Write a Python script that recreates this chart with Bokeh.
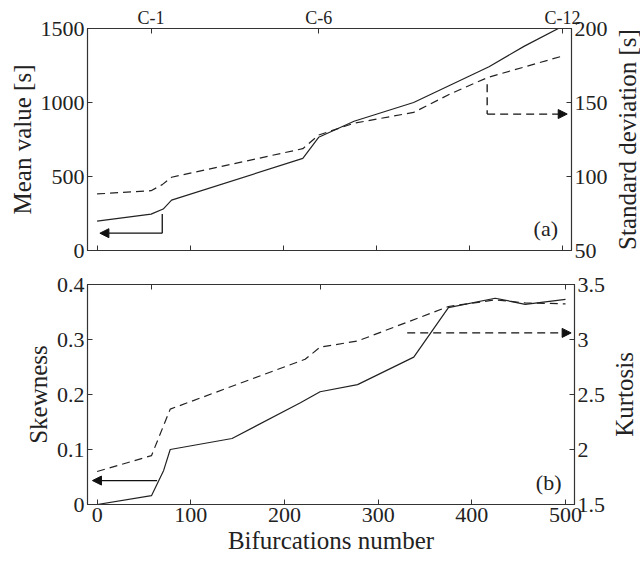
from bokeh.plotting import figure
from bokeh.layouts import column, row
from bokeh.models import (Range1d, LinearAxis, FixedTicker, Arrow, NormalHead, Label,
                          CustomLabelingPolicy)
from bokeh.embed import file_html
from bokeh.resources import INLINE

# ---------------- data ----------------
mean_x = [0, 58, 71, 80, 221, 238, 276, 340, 421, 459, 500]
mean_value = [198, 246, 280, 340, 622, 765, 873, 1000, 1242, 1381, 1515]

std_x = [0, 58, 70, 80, 221, 238, 276, 340, 380, 420, 500]
std_dev = [88.2, 90.4, 94.5, 99.5, 118.8, 128.0, 136.0, 143.3, 156.0, 167.0, 181.4]

skew_x = [0, 58, 71, 78, 144, 217, 238, 278, 338, 375, 425, 457, 500]
skewness = [0.0, 0.016, 0.062, 0.100, 0.120, 0.185, 0.205, 0.218, 0.268, 0.358, 0.375, 0.364, 0.373]

kurt_x = [0, 58, 78, 222, 238, 278, 375, 425, 457, 500]
kurtosis = [1.80, 1.944, 2.367, 2.82, 2.93, 2.986, 3.30, 3.36, 3.333, 3.324]

x_ticks = [0, 100, 200, 300, 400, 500]
case_ticks = [58, 238, 500]
case_labels = ["C-1", "C-6", "C-12"]
mean_ticks = [0, 500, 1000, 1500]
std_ticks = [50, 100, 150, 200]
skew_ticks = [0, 0.1, 0.2, 0.3, 0.4]
kurt_ticks = [1.5, 2, 2.5, 3, 3.5]
kurt_labels = ["1.5", "2", "2.5", "3", "3.5"]

# arrow guides (data coordinates)
mean_arrow_x = [70, 70, 3]
mean_arrow_y = [246, 117, 117]
std_arrow_x = [419, 419, 505]
std_arrow_y = [162.4, 142.2, 142.2]
skew_arrow_x = [64, -5]
skew_arrow_y = [0.0435, 0.0435]
kurt_arrow_x = [331, 506]
kurt_arrow_y = [3.06, 3.06]

FONT = "Liberation Serif, DejaVu Serif, serif"
INK = "#222222"
FRAME = "#333333"
DASH = "8 5"
X_RANGE = (-10.3, 509.6)

NO_LABELS = CustomLabelingPolicy(code="""
for (const i of indices) { indices.unset(i) }
return indices
""")


def style_axis(ax, tick_font="22px", label=True):
    ax.major_tick_in = 5
    ax.major_tick_out = 0
    ax.minor_tick_line_color = None
    ax.axis_line_color = FRAME
    ax.major_tick_line_color = FRAME
    ax.major_label_text_font = FONT
    ax.major_label_text_font_size = tick_font
    ax.major_label_text_color = INK
    ax.axis_label_text_font = FONT
    ax.axis_label_text_font_size = "25px"
    ax.axis_label_text_font_style = "normal"
    ax.axis_label_text_color = INK
    ax.major_label_standoff = 3
    ax.axis_label_standoff = 2
    if not label:
        ax.major_label_policy = NO_LABELS
        ax.major_label_standoff = 0


def base_fig(height, top, bottom, yr):
    p = figure(width=610, height=height, output_backend="svg", toolbar_location=None,
               x_range=Range1d(*X_RANGE), y_range=Range1d(*yr),
               min_border_left=87, min_border_right=36,
               min_border_top=top, min_border_bottom=bottom)
    p.xgrid.visible = False
    p.ygrid.visible = False
    p.outline_line_color = FRAME
    p.outline_line_width = 1.2
    return p


def side_title(text, height, top, bottom, left, right):
    # narrow companion figure: its left-axis title reads bottom-to-top
    q = figure(width=30, height=height, output_backend="svg", toolbar_location=None,
               x_range=Range1d(0, 1), y_range=Range1d(0, 1), x_axis_location=None,
               y_axis_location=None,
               min_border_left=left, min_border_right=right,
               min_border_top=top, min_border_bottom=bottom)
    q.xgrid.visible = False
    q.ygrid.visible = False
    q.outline_line_color = None
    ax = LinearAxis(ticker=FixedTicker(ticks=[]), axis_label=text)
    style_axis(ax)
    ax.major_label_standoff = 0
    ax.axis_label_standoff = 0
    ax.major_tick_in = 0
    ax.major_tick_line_color = None
    ax.axis_line_color = None
    q.add_layout(ax, "left")
    return q


HEAD = dict(size=9, fill_color="#111111", line_color="#111111")

# ---------------- panel (a) ----------------
p1 = base_fig(267, 28, 15, (0, 1500))
p1.extra_y_ranges = {"std": Range1d(50, 200)}
p1.xaxis.ticker = FixedTicker(ticks=x_ticks)
style_axis(p1.xaxis[0], label=False)
p1.yaxis.ticker = FixedTicker(ticks=mean_ticks)
p1.yaxis.axis_label = "Mean value [s]"
style_axis(p1.yaxis[0])

ax_std = LinearAxis(y_range_name="std", ticker=FixedTicker(ticks=std_ticks))
style_axis(ax_std)
p1.add_layout(ax_std, "right")

ax_case = LinearAxis(ticker=FixedTicker(ticks=case_ticks),
                     major_label_overrides=dict(zip(case_ticks, case_labels)))
style_axis(ax_case, tick_font="18px")
ax_case.major_label_standoff = 1
p1.add_layout(ax_case, "above")

p1.line(mean_x, mean_value, line_color=INK, line_width=1.2)
p1.line(std_x, std_dev, line_color=INK, line_width=1.2, line_dash=DASH, y_range_name="std")

p1.line(mean_arrow_x[:2], mean_arrow_y[:2], line_color="#111111", line_width=1.3)
p1.add_layout(Arrow(end=NormalHead(**HEAD),
                    x_start=mean_arrow_x[1], y_start=mean_arrow_y[1],
                    x_end=mean_arrow_x[2], y_end=mean_arrow_y[2],
                    line_color="#111111", line_width=1.3))
p1.line(std_arrow_x[:2], std_arrow_y[:2], line_color="#111111", line_width=1.3,
        line_dash=DASH, y_range_name="std")
p1.add_layout(Arrow(end=NormalHead(**HEAD),
                    x_start=std_arrow_x[1], y_start=std_arrow_y[1],
                    x_end=std_arrow_x[2], y_end=std_arrow_y[2], y_range_name="std",
                    line_color="#111111", line_width=1.3, line_dash=DASH))
p1.add_layout(Label(x=482, y=150, text="(a)", text_font=FONT, text_font_size="22px",
                    text_color=INK, text_align="center", text_baseline="middle"))

t1 = side_title("Standard deviation [s]", 267, 28, 15, 28, 0)

# ---------------- panel (b) ----------------
p2 = base_fig(294, 16, 57, (0, 0.4))
p2.extra_y_ranges = {"kurt": Range1d(1.5, 3.5)}
p2.xaxis.ticker = FixedTicker(ticks=x_ticks)
p2.xaxis.axis_label = "Bifurcations number"
style_axis(p2.xaxis[0])
p2.yaxis.ticker = FixedTicker(ticks=skew_ticks)
p2.yaxis.major_label_overrides = {0: "0"}
p2.yaxis.axis_label = "Skewness"
style_axis(p2.yaxis[0])

ax_kurt = LinearAxis(y_range_name="kurt", ticker=FixedTicker(ticks=kurt_ticks),
                     major_label_overrides=dict(zip(kurt_ticks, kurt_labels)))
style_axis(ax_kurt)
p2.add_layout(ax_kurt, "right")

ax_top2 = LinearAxis(ticker=FixedTicker(ticks=case_ticks))
style_axis(ax_top2, label=False)
p2.add_layout(ax_top2, "above")

p2.line(skew_x, skewness, line_color=INK, line_width=1.2)
p2.line(kurt_x, kurtosis, line_color=INK, line_width=1.2, line_dash=DASH, y_range_name="kurt")

p2.add_layout(Arrow(end=NormalHead(**HEAD),
                    x_start=skew_arrow_x[0], y_start=skew_arrow_y[0],
                    x_end=skew_arrow_x[1], y_end=skew_arrow_y[1],
                    line_color="#111111", line_width=1.3))
p2.add_layout(Arrow(end=NormalHead(**HEAD),
                    x_start=kurt_arrow_x[0], y_start=kurt_arrow_y[0],
                    x_end=kurt_arrow_x[1], y_end=kurt_arrow_y[1], y_range_name="kurt",
                    line_color="#111111", line_width=1.3, line_dash=DASH))
p2.add_layout(Label(x=482, y=0.040, text="(b)", text_font=FONT, text_font_size="22px",
                    text_color=INK, text_align="center", text_baseline="middle"))

t2 = side_title("Kurtosis", 294, 16, 57, 25, 3)

layout = column(row(p1, t1, spacing=0), row(p2, t2, spacing=0), spacing=0)
open("out.html", "w").write(file_html(layout, INLINE))
